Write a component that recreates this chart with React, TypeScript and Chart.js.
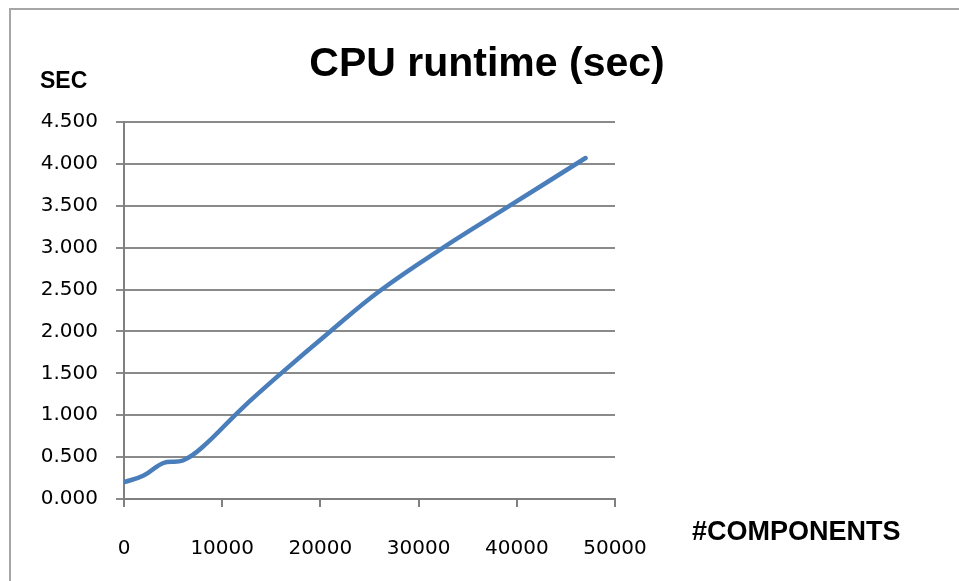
import React, { useEffect, useRef } from "react";
import { Chart, registerables } from "chart.js";

Chart.register(...registerables);

const components = [0, 2000, 4000, 6000, 8000, 12000, 16000, 21000, 26000, 32500, 39000, 47000];
const runtimeSec = [0.2, 0.28, 0.43, 0.46, 0.62, 1.08, 1.5, 2.0, 2.48, 3.0, 3.48, 4.07];
const titleText = "CPU runtime (sec)";
const yAxisTitle = "SEC";
const xAxisTitle = "#COMPONENTS";

const decorPlugin = {
  id: "decor",
  beforeDraw(chart: any) {
    const ctx = chart.ctx;
    ctx.save();
    ctx.fillStyle = "#ffffff";
    ctx.fillRect(0, 0, chart.width, chart.height);
    ctx.strokeStyle = "#a6a6a6";
    ctx.lineWidth = 2;
    ctx.beginPath();
    ctx.moveTo(10, chart.height);
    ctx.lineTo(10, 9);
    ctx.lineTo(chart.width, 9);
    ctx.stroke();
    ctx.restore();
  },
  afterDraw(chart: any) {
    const ctx = chart.ctx;
    ctx.save();
    ctx.fillStyle = "#000000";
    ctx.textBaseline = "alphabetic";
    ctx.font = "bold 41px 'Liberation Sans', Arial, sans-serif";
    ctx.textAlign = "center";
    ctx.fillText(titleText, 487, 76);
    ctx.font = "bold 23px 'Liberation Sans', Arial, sans-serif";
    ctx.textAlign = "left";
    ctx.fillText(yAxisTitle, 40, 88);
    ctx.font = "bold 27px 'Liberation Sans', Arial, sans-serif";
    ctx.fillText(xAxisTitle, 692, 540);
    ctx.restore();
  },
};

export default function App() {
  const ref = useRef<HTMLCanvasElement | null>(null);
  useEffect(() => {
    if (!ref.current) return;
    const chart = new Chart(ref.current, {
      type: "line",
      data: {
        datasets: [
          {
            label: titleText,
            data: components.map((x, i) => ({ x, y: runtimeSec[i] })),
            borderColor: "#4a7ebb",
            borderWidth: 4.5,
            pointRadius: 0,
            tension: 0.4,
            borderCapStyle: "round",
            borderJoinStyle: "round",
            fill: false,
          },
        ],
      },
      options: {
        animation: false,
        responsive: false,
        layout: { padding: { left: 0, top: 122, right: 344, bottom: 12 } },
        plugins: { legend: { display: false }, title: { display: false }, tooltip: { enabled: false } },
        scales: {
          x: {
            type: "linear",
            min: 0,
            max: 50000,
            afterFit: (s: any) => {
              s.height = 70;
            },
            ticks: {
              stepSize: 10000,
              padding: 30,
              color: "#000000",
              font: { family: "'DejaVu Sans', sans-serif", size: 20 },
              maxRotation: 0,
              callback: (v: any) => String(v),
            },
            grid: { drawOnChartArea: false, tickLength: 8, color: "#808080", lineWidth: 2 },
            border: { color: "#808080", width: 2 },
          },
          y: {
            min: 0,
            max: 4.5,
            afterFit: (s: any) => {
              s.width = 124;
            },
            ticks: {
              stepSize: 0.5,
              padding: 18,
              color: "#000000",
              font: { family: "'DejaVu Sans', sans-serif", size: 20 },
              callback: (v: any) => Number(v).toFixed(3),
            },
            grid: { tickLength: 8, color: "#8a8a8a", lineWidth: 2 },
            border: { color: "#808080", width: 2 },
          },
        },
      },
      plugins: [decorPlugin],
    } as any);
    return () => chart.destroy();
  }, []);
  return (
    <div style={{ position: "absolute", left: 0, top: 0, width: 959, height: 581 }}>
      <canvas ref={ref} width={959} height={581} style={{ display: "block" }} />
    </div>
  );
}
